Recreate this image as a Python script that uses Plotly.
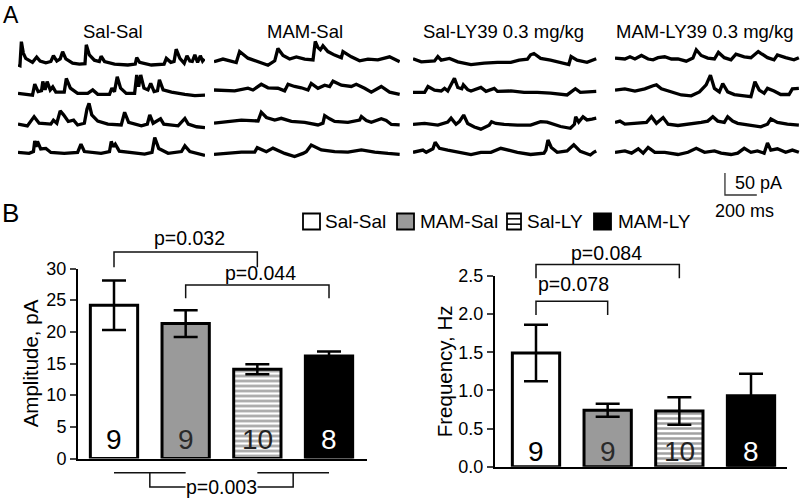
import plotly.graph_objects as go

W, H = 800, 498
FONT = "Arial, Liberation Sans, sans-serif"

# ---------------- Panel A: example traces (time ms, current pA) ----------------
GROUPS = ["Sal-Sal", "MAM-Sal", "Sal-LY39 0.3 mg/kg", "MAM-LY39 0.3 mg/kg"]

sal_sal_1_t = [0, 12, 21, 33, 48, 69, 90, 116, 137, 173, 204, 220, 241, 262, 277, 297, 339, 381, 416, 424, 443, 474, 505, 516, 537, 599, 682, 728, 737, 755, 828, 907, 921, 949, 969, 982, 1005, 1032, 1049, 1067, 1082, 1098, 1115, 1132, 1146, 1157]
sal_sal_1_i = [0, -1.5, 53, 27, 15, 11, 6, 18, 9, 5, 8, 21, 9, 14, 30, 14, 4, 2, 3, 46, 23, 11, 8, 20, 8, 2, 0, 2, 17, 6, 0, 2, 15, 6, 8, 36, 15, 4, 21, 9, 8, 23, 6, 21, 9, 14]
sal_sal_2_t = [0, 37, 90, 104, 125, 146, 154, 168, 181, 200, 216, 235, 287, 300, 325, 370, 433, 464, 495, 568, 583, 599, 616, 637, 672, 724, 737, 749, 762, 782, 807, 824, 845, 866, 878, 901, 953, 1036, 1098, 1161]
sal_sal_2_i = [2, 0, -2, 23, 6, 8, 29, 10, 29, 10, 17, 5, 5, 36, 14, 2, 2, 10, 0, 0, 14, 6, 40, 14, 2, 2, 44, 17, 44, 14, 10, 25, 6, 8, 33, 10, 5, 0, -3, -2]
sal_sal_3_t = [0, 58, 100, 131, 204, 220, 241, 262, 283, 312, 345, 370, 412, 428, 441, 458, 495, 558, 641, 662, 687, 766, 803, 818, 839, 885, 905, 994, 1036, 1057, 1109, 1161]
sal_sal_3_i = [2, -2, 19, 4, 2, 11, 4, 32, 23, 8, 11, 0, 4, 36, 49, 23, 9, 2, 0, 29, 6, -2, 2, 23, 4, 14, 2, -2, 15, 2, -4, -6]
sal_sal_4_t = [0, 69, 96, 104, 112, 121, 141, 173, 204, 287, 370, 391, 412, 516, 568, 579, 591, 604, 629, 703, 786, 832, 849, 874, 932, 1015, 1036, 1067, 1119, 1161]
sal_sal_4_i = [2, 0, 4, 28, 15, 27, 10, 11, 2, 0, 2, 21, 4, 0, 4, 27, 15, 21, 5, 2, -2, 2, 36, 11, 0, 4, 17, 4, -2, -5]

mam_sal_1_t = [0, 56, 139, 160, 212, 275, 337, 379, 399, 431, 472, 514, 566, 618, 632, 649, 664, 680, 711, 753, 795, 805, 857, 909, 961, 1023, 1096, 1159]
mam_sal_1_i = [0, 6, -2, 23, 8, 0, -8, 2, 30, 14, 6, 11, 6, 4, 46, 32, 27, 36, 23, 15, 9, 23, 11, 2, 6, 4, 11, 0]
mam_sal_2_t = [0, 129, 212, 243, 295, 337, 399, 441, 462, 503, 545, 587, 607, 649, 691, 722, 743, 795, 857, 888, 940, 982, 1044, 1096, 1159]
mam_sal_2_i = [0, -2, 4, 0, 13, 5, 4, -2, 13, 8, 5, 0, 15, 4, 11, 8, 20, 11, 8, 13, 4, -5, 8, -5, -10]
mam_sal_3_t = [0, 87, 171, 275, 295, 327, 379, 420, 483, 566, 649, 680, 691, 722, 753, 836, 909, 920, 951, 982, 1044, 1075, 1107, 1159]
mam_sal_3_i = [-2, 2, 5, 3, 23, 11, 5, 9, 2, 0, -6, -2, 15, 8, 2, 0, 5, 13, 4, 0, 8, 4, -5, -6]
mam_sal_4_t = [0, 87, 171, 254, 270, 327, 368, 441, 503, 556, 576, 607, 670, 753, 836, 920, 1003, 1086, 1159]
mam_sal_4_i = [0, 2, 5, 5, 15, 6, 14, 2, -5, 2, 6, 21, 10, 6, 5, 10, 5, 2, 0]

sal_ly_1_t = [0, 52, 135, 156, 177, 229, 281, 364, 447, 530, 614, 666, 718, 738, 759, 801, 863, 926, 978, 992, 1030, 1092, 1150]
sal_ly_1_i = [5, -2, 0, 10, 2, 6, -2, -8, -5, -3, -3, 2, 4, 14, 17, 6, 2, -3, -8, 10, 2, -3, 5]
sal_ly_2_t = [0, 73, 94, 135, 177, 198, 218, 260, 281, 306, 316, 343, 364, 426, 458, 510, 530, 614, 697, 780, 863, 967, 1019, 1050, 1150]
sal_ly_2_i = [0, 0, 13, 5, 3, 9, 3, 32, 11, 8, 17, 6, 3, 11, 2, 9, 2, 3, 0, 0, -2, -6, 8, 0, 2]
sal_ly_3_t = [0, 73, 156, 218, 239, 270, 291, 318, 343, 385, 426, 478, 493, 520, 572, 655, 738, 801, 842, 926, 988, 1013, 1021, 1040, 1067, 1092, 1123, 1150]
sal_ly_3_i = [0, 2, -2, 5, 14, 0, 6, 21, 2, -6, -11, -2, 6, 2, 0, -2, -2, 6, 5, -5, -9, 0, 17, 5, 17, 10, 12, 14]
sal_ly_4_t = [0, 62, 83, 125, 139, 166, 218, 281, 364, 426, 489, 551, 593, 655, 738, 822, 834, 847, 868, 905, 967, 1009, 1050, 1113, 1134, 1150]
sal_ly_4_i = [0, 5, 0, 8, 23, 9, 5, 0, -5, 0, 0, 9, 5, 0, -5, -2, 5, 28, 11, 0, 3, 17, 2, -6, 0, 3]

mam_ly_1_t = [0, 62, 94, 125, 166, 208, 239, 270, 312, 354, 395, 447, 489, 510, 541, 582, 624, 649, 686, 728, 759, 811, 853, 884, 899, 915, 957, 998, 1019, 1071, 1123, 1154]
mam_ly_1_i = [2, 0, 5, 0, 8, 0, -2, 3, 5, 0, 0, -5, 2, 21, 8, 2, 0, 15, 3, -2, 11, 5, 3, 12, 17, 13, 3, -2, 9, 3, -2, 3]
mam_ly_2_t = [0, 62, 125, 187, 239, 260, 291, 354, 416, 478, 530, 551, 572, 599, 624, 655, 676, 707, 749, 811, 853, 878, 905, 936, 957, 998, 1040, 1092, 1113, 1154]
mam_ly_2_i = [2, 5, 0, 5, 12, 14, 5, -3, -9, -11, -2, 6, 14, 36, 6, -2, 17, -2, -8, -11, -13, 21, 2, -5, 6, 0, -8, -8, 5, 6]
mam_ly_3_t = [0, 31, 62, 146, 198, 229, 260, 302, 333, 395, 478, 541, 582, 614, 645, 686, 707, 738, 770, 853, 915, 957, 978, 1019, 1082, 1154]
mam_ly_3_i = [2, 5, -2, 0, 2, 15, 0, 13, -2, -5, -2, 2, 5, 15, 5, 2, 15, 5, 0, -4, -8, -2, 10, 2, -2, -4]
mam_ly_4_t = [0, 62, 104, 146, 177, 208, 250, 312, 395, 458, 510, 562, 624, 666, 728, 770, 811, 853, 894, 936, 957, 978, 1019, 1071, 1113, 1154]
mam_ly_4_i = [0, 3, -2, 8, -2, 11, 0, 0, -5, 0, 9, 0, 3, -2, -5, -2, 9, 0, 3, -2, 21, 5, 8, 0, 5, 0]

TRACES = [
    [(sal_sal_1_t, sal_sal_1_i), (sal_sal_2_t, sal_sal_2_i), (sal_sal_3_t, sal_sal_3_i), (sal_sal_4_t, sal_sal_4_i)],
    [(mam_sal_1_t, mam_sal_1_i), (mam_sal_2_t, mam_sal_2_i), (mam_sal_3_t, mam_sal_3_i), (mam_sal_4_t, mam_sal_4_i)],
    [(sal_ly_1_t, sal_ly_1_i), (sal_ly_2_t, sal_ly_2_i), (sal_ly_3_t, sal_ly_3_i), (sal_ly_4_t, sal_ly_4_i)],
    [(mam_ly_1_t, mam_ly_1_i), (mam_ly_2_t, mam_ly_2_i), (mam_ly_3_t, mam_ly_3_i), (mam_ly_4_t, mam_ly_4_i)],
]
SCALE_MS = 200
SCALE_PA = 50

# ---------------- Panel B: summary data ----------------
CATS = ["Sal-Sal", "MAM-Sal", "Sal-LY", "MAM-LY"]
N_CELLS = [9, 9, 10, 8]
AMP_MEAN = [24.2, 21.3, 14.1, 16.2]
AMP_SEM = [3.9, 2.1, 0.8, 0.7]
FREQ_MEAN = [1.49, 0.74, 0.73, 0.93]
FREQ_SEM = [0.37, 0.085, 0.18, 0.29]
AMP_TICKS = [0, 5, 10, 15, 20, 25, 30]
FREQ_TICKS = [0.0, 0.5, 1.0, 1.5, 2.0, 2.5]
AMP_COMPARISONS = [("p=0.032", 0, 2), ("p=0.044", 1, 3)]
AMP_POOLED = ("p=0.003", (0, 1), (2, 3))
FREQ_COMPARISONS = [("p=0.078", 0, 1), ("p=0.084", 0, 2)]

FILL = ["white", "#9a9a9a", "white", "black"]
PATTERN = ["", "", "-", ""]
NCOLOR = ["black", "#2a2a2a", "#222222", "white"]


def dx(a, b):
    return [a / W, b / W]


def dy(top, bottom):
    return [1 - bottom / H, 1 - top / H]


fig = go.Figure()
layout = {}

# ---- Panel A axes ----
COL_PX = [(18, 205), (214, 400), (413, 598), (615, 800)]
BASE_PX = [[65, 94.3, 125, 153.3], [61.7, 90, 122.3, 154.3],
           [61, 92.3, 124.3, 152.3], [59, 91, 123.3, 152.3]]
PX_PER_PA = 0.44
T_MAX = 1161
Y_LO, Y_HI = -30, 60
k = 0
for c in range(4):
    for r in range(4):
        k += 1
        t, i = TRACES[c][r]
        base = BASE_PX[c][r]
        layout[f"xaxis{k}"] = dict(domain=dx(*COL_PX[c]), range=[0, T_MAX], visible=False, anchor=f"y{k}")
        layout[f"yaxis{k}"] = dict(domain=dy(base - Y_HI * PX_PER_PA, base - Y_LO * PX_PER_PA),
                                   range=[Y_LO, Y_HI], visible=False, anchor=f"x{k}")
        fig.add_trace(go.Scatter(x=t, y=i, mode="lines", xaxis=f"x{k}", yaxis=f"y{k}",
                                 line=dict(color="black", width=3.3), showlegend=False, hoverinfo="skip"))

# ---- Panel B axis ids ----
AX_L, AX_R = 17, 18
OV_L, OV_R = 19, 20
SB = 21

# scale bar axis (same ms / pA scale as the traces)
layout[f"xaxis{SB}"] = dict(domain=dx(*COL_PX[3]), range=[0, T_MAX], visible=False, anchor=f"y{SB}")
layout[f"yaxis{SB}"] = dict(domain=dy(165, 200), range=[0, 35 / PX_PER_PA], visible=False, anchor=f"x{SB}")
sb_t0, sb_i0 = 690, 5 / PX_PER_PA
fig.add_trace(go.Scatter(x=[sb_t0, sb_t0, sb_t0 + SCALE_MS], y=[sb_i0 + SCALE_PA, sb_i0, sb_i0],
                         mode="lines", xaxis=f"x{SB}", yaxis=f"y{SB}",
                         line=dict(color="#333", width=1.3), showlegend=False, hoverinfo="skip"))

STEP = 71.67
L_X0, L_X1, L_C0 = 78, 367, 114
L_Y0, L_SC = 458.5, 190 / 30
R_X0, R_X1, R_C0 = 495, 787, 536
R_Y0, R_SC = 466.7, 190.7 / 2.5

TICKF = dict(size=18, color="black", family=FONT)
TITLEF = dict(size=20.5, color="black", family=FONT)
axis_common = dict(showline=True, linewidth=2, linecolor="black", showgrid=False, zeroline=False)
layout[f"xaxis{AX_L}"] = dict(domain=dx(L_X0, L_X1), range=[(L_X0 - L_C0) / STEP, (L_X1 - L_C0) / STEP],
                              showticklabels=False, ticks="", anchor=f"y{AX_L}", **axis_common)
layout[f"yaxis{AX_L}"] = dict(domain=dy(L_Y0 - 30 * L_SC, L_Y0), range=[0, 30], tickvals=AMP_TICKS,
                              ticks="outside", ticklen=6, tickwidth=2, anchor=f"x{AX_L}", tickfont=TICKF,
                              title=dict(text="Amplitude, pA", font=TITLEF, standoff=2), **axis_common)
layout[f"xaxis{AX_R}"] = dict(domain=dx(R_X0, R_X1), range=[(R_X0 - R_C0) / STEP, (R_X1 - R_C0) / STEP],
                              showticklabels=False, ticks="", anchor=f"y{AX_R}", **axis_common)
layout[f"yaxis{AX_R}"] = dict(domain=dy(R_Y0 - 2.5 * R_SC, R_Y0), range=[0, 2.5], tickvals=FREQ_TICKS,
                              tickformat=".1f", ticks="outside", ticklen=6, tickwidth=2, anchor=f"x{AX_R}",
                              tickfont=TICKF,
                              title=dict(text="Frequency, Hz", font=TITLEF, standoff=0), **axis_common)

# overlay axes for significance brackets (same scale, wider vertical extent)
layout[f"xaxis{OV_L}"] = dict(domain=dx(L_X0, L_X1), range=[(L_X0 - L_C0) / STEP, (L_X1 - L_C0) / STEP],
                              visible=False, anchor=f"y{OV_L}")
layout[f"yaxis{OV_L}"] = dict(domain=dy(L_Y0 - 36 * L_SC, L_Y0 + 6 * L_SC), range=[-6, 36],
                              visible=False, anchor=f"x{OV_L}")
layout[f"xaxis{OV_R}"] = dict(domain=dx(R_X0, R_X1), range=[(R_X0 - R_C0) / STEP, (R_X1 - R_C0) / STEP],
                              visible=False, anchor=f"y{OV_R}")
layout[f"yaxis{OV_R}"] = dict(domain=dy(R_Y0 - 3.0 * R_SC, R_Y0), range=[0, 3.0],
                              visible=False, anchor=f"x{OV_R}")

xs = list(range(len(CATS)))
for ax, mean, sem in [(AX_L, AMP_MEAN, AMP_SEM), (AX_R, FREQ_MEAN, FREQ_SEM)]:
    fig.add_trace(go.Bar(
        x=xs, y=mean, width=0.66, xaxis=f"x{ax}", yaxis=f"y{ax}",
        marker=dict(color=FILL, line=dict(color="black", width=3),
                    pattern=dict(shape=PATTERN, fgcolor="black", size=5, solidity=0.5, fillmode="overlay")),
        error_y=dict(type="data", array=sem, color="black", thickness=2.5, width=12),
        showlegend=False, hoverinfo="skip"))

annotations = []
shapes = []

for ax, shift in [(AX_L, 19), (AX_R, 15)]:
    for j, n in enumerate(N_CELLS):
        annotations.append(dict(x=j, y=0, xref=f"x{ax}", yref=f"y{ax}", text=str(n), showarrow=False,
                                yanchor="middle", yshift=shift,
                                font=dict(size=28, color=NCOLOR[j], family=FONT)))

PF = dict(size=19.5, color="black", family=FONT)


def bracket(ax, a, b, top, drop, label, label_y, label_x):
    fig.add_trace(go.Scatter(x=[a, a, b, b], y=[drop, top, top, drop], mode="lines",
                             xaxis=f"x{ax}", yaxis=f"y{ax}", line=dict(color="#111", width=1.5),
                             showlegend=False, hoverinfo="skip"))
    annotations.append(dict(x=label_x, y=label_y, xref=f"x{ax}", yref=f"y{ax}", text=label,
                            showarrow=False, yanchor="middle", font=PF))


(lab1, a1, b1), (lab2, a2, b2) = AMP_COMPARISONS
bracket(OV_L, a1, b1, 32.6, 30.2, lab1, 34.8, 1.06)
bracket(OV_L, a2, b2, 27.4, 25.3, lab2, 29.3, 2.05)
lab3, (p0, p1), (q0, q1) = AMP_POOLED
for u0, u1 in [(p0, p1), (q0, q1)]:
    fig.add_trace(go.Scatter(x=[u0, u1], y=[-2.24, -2.24], mode="lines", xaxis=f"x{OV_L}", yaxis=f"y{OV_L}",
                             line=dict(color="#111", width=1.5), showlegend=False, hoverinfo="skip"))
m0, m1 = (p0 + p1) / 2, (q0 + q1) / 2
fig.add_trace(go.Scatter(x=[m0, m0, m1, m1], y=[-2.24, -4.5, -4.5, -2.24], mode="lines",
                         xaxis=f"x{OV_L}", yaxis=f"y{OV_L}", line=dict(color="#111", width=1.5),
                         showlegend=False, hoverinfo="skip"))
annotations.append(dict(x=(m0 + m1) / 2, y=-4.5, xref=f"x{OV_L}", yref=f"y{OV_L}", text=lab3,
                        showarrow=False, yanchor="middle", bgcolor="white", borderpad=0, font=PF))

(lab4, a4, b4), (lab5, a5, b5) = FREQ_COMPARISONS
bracket(OV_R, a4, b4, 2.17, 1.99, lab4, 2.40, 0.52)
bracket(OV_R, a5, b5, 2.65, 2.47, lab5, 2.80, 0.99)

TITLE_X = [113, 305, 503, 705]
for g, cx in zip(GROUPS, TITLE_X):
    annotations.append(dict(x=cx / W, y=1 - 31 / H, xref="paper", yref="paper", text=g, showarrow=False,
                            xanchor="center", yanchor="middle", font=dict(size=18.5, color="black", family=FONT)))
annotations.append(dict(x=1 / W, y=1 - 15 / H, xref="paper", yref="paper", text="A", showarrow=False,
                        xanchor="left", yanchor="middle", font=dict(size=23, color="black", family=FONT)))
annotations.append(dict(x=0 / W, y=1 - 213 / H, xref="paper", yref="paper", text="B", showarrow=False,
                        xanchor="left", yanchor="middle", font=dict(size=26, color="black", family=FONT)))
annotations.append(dict(x=733 / W, y=1 - 183 / H, xref="paper", yref="paper", text=f"{SCALE_PA} pA",
                        showarrow=False, xanchor="left", yanchor="middle",
                        font=dict(size=18, color="black", family=FONT)))
annotations.append(dict(x=744 / W, y=1 - 211.5 / H, xref="paper", yref="paper", text=f"{SCALE_MS} ms",
                        showarrow=False, xanchor="center", yanchor="middle",
                        font=dict(size=18, color="black", family=FONT)))

LEG = [(303, 320, "Sal-Sal", 323), (397, 414, "MAM-Sal", 418), (507, 521, "Sal-LY", 525), (594, 611, "MAM-LY", 616)]
LEG_TOP, LEG_BOT = 213.5, 229.5
for j, (x0, x1, name, tx) in enumerate(LEG):
    shapes.append(dict(type="rect", xref="paper", yref="paper", x0=x0 / W, x1=x1 / W,
                       y0=1 - LEG_BOT / H, y1=1 - LEG_TOP / H, fillcolor=FILL[j],
                       line=dict(color="black", width=1.8)))
    if PATTERN[j] == "-":
        for fy in (1 / 3, 2 / 3):
            yy = LEG_TOP + (LEG_BOT - LEG_TOP) * fy
            shapes.append(dict(type="line", xref="paper", yref="paper", x0=x0 / W, x1=x1 / W,
                               y0=1 - yy / H, y1=1 - yy / H, line=dict(color="black", width=1.5)))
    annotations.append(dict(x=tx / W, y=1 - 221.5 / H, xref="paper", yref="paper", text=name, showarrow=False,
                            xanchor="left", yanchor="middle", font=dict(size=19, color="black", family=FONT)))

fig.update_layout(
    width=W, height=H, margin=dict(l=0, r=0, t=0, b=0, pad=0, autoexpand=False),
    paper_bgcolor="white", plot_bgcolor="rgba(0,0,0,0)",
    font=dict(family=FONT, color="black"),
    annotations=annotations, shapes=shapes, showlegend=False, barmode="overlay",
    **layout,
)
fig.write_html("out.html", config={"displayModeBar": False},
               post_script="document.body.style.margin='0px';")
